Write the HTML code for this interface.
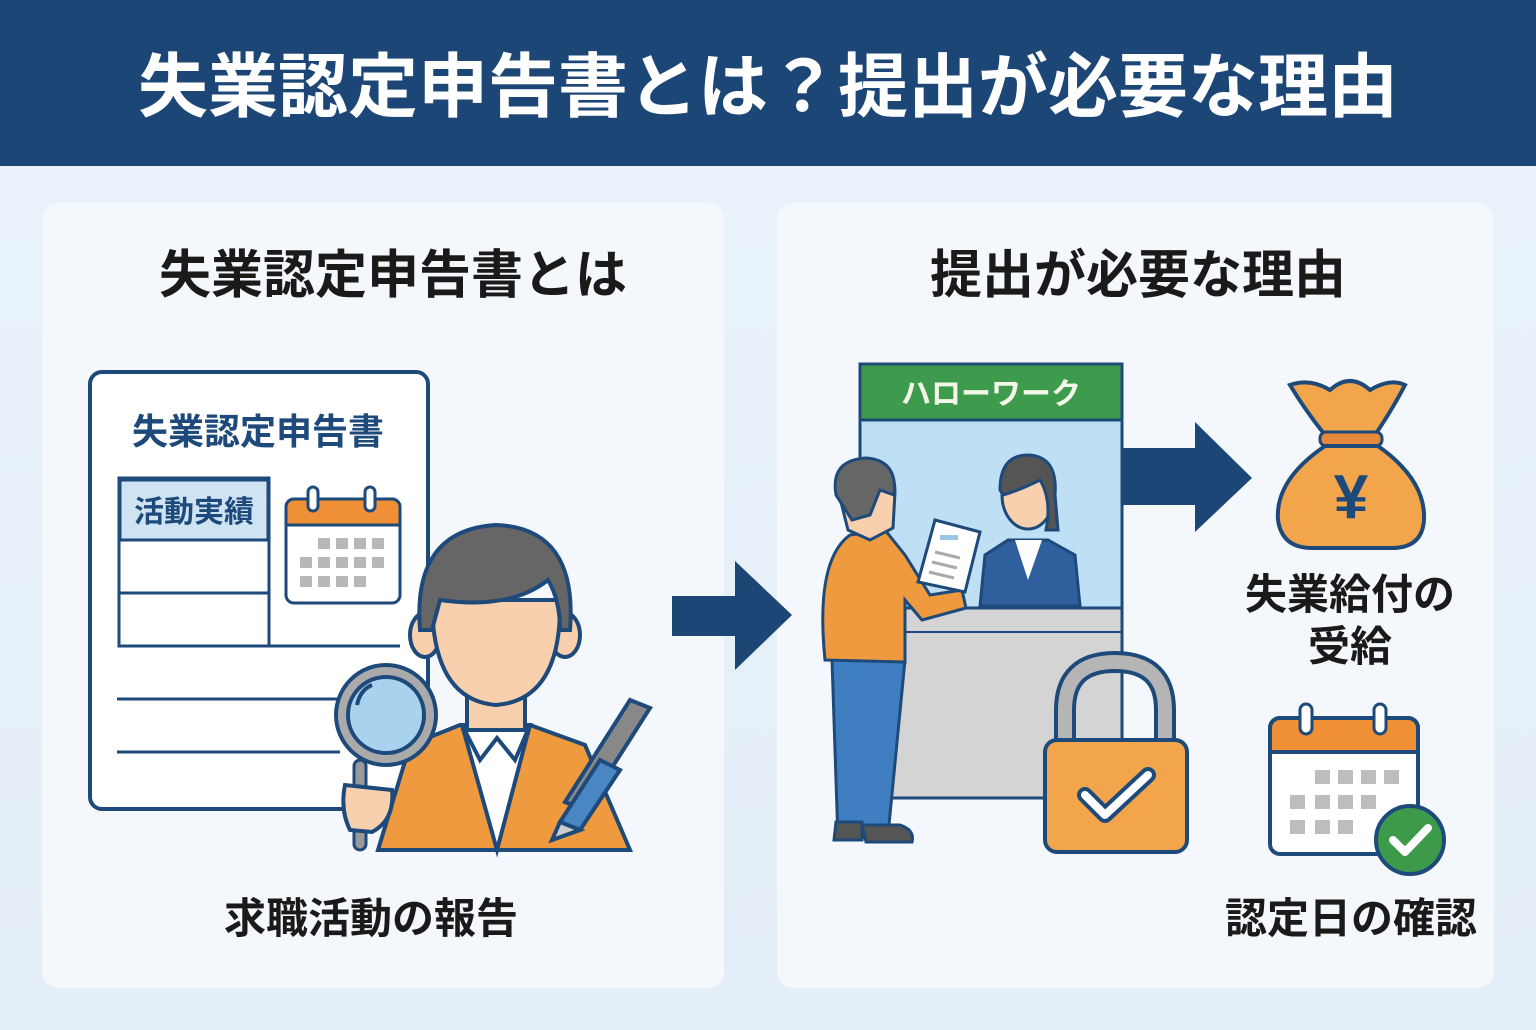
<!DOCTYPE html>
<html><head><meta charset="utf-8"><style>
html,body{margin:0;padding:0;}
body{width:1536px;height:1030px;overflow:hidden;background:#e9f2fa;}
svg{display:block;}
text{font-family:"Liberation Sans","Noto Sans CJK JP",sans-serif;font-weight:bold;}
</style></head><body>
<svg width="1536" height="1030" viewBox="0 0 1536 1030" xmlns="http://www.w3.org/2000/svg">
<defs>
<linearGradient id="bg" x1="0" y1="0" x2="0" y2="1"><stop offset="0" stop-color="#eaf3fb"/><stop offset="1" stop-color="#e4eef8"/></linearGradient>
</defs>
<rect width="1536" height="1030" fill="url(#bg)"/>
<rect width="1536" height="166" fill="#1c4676"/>
<text x="768" y="111" font-size="70" fill="#fff" text-anchor="middle">失業認定申告書とは？提出が必要な理由</text>

<rect x="42" y="203" width="682" height="785" rx="16" fill="#f4f8fc"/>
<rect x="777" y="203" width="717" height="785" rx="16" fill="#f4f8fc"/>
<text x="393" y="293" font-size="52" fill="#1a1a1a" text-anchor="middle">失業認定申告書とは</text>
<text x="1138" y="293" font-size="52" fill="#1a1a1a" text-anchor="middle">提出が必要な理由</text>

<!-- Left document -->
<rect x="90" y="372" width="338" height="437" rx="12" fill="#fff" stroke="#1d4a7a" stroke-width="4"/>
<text x="258" y="444" font-size="36" fill="#1d4a7a" text-anchor="middle">失業認定申告書</text>
<rect x="119" y="478" width="150" height="168" fill="#fff" stroke="#1d4a7a" stroke-width="3"/>
<rect x="120" y="480" width="148" height="60" fill="#cfe3f3" stroke="#1d4a7a" stroke-width="3"/>
<text x="194" y="522" font-size="30" fill="#1d4a7a" text-anchor="middle">活動実績</text>
<line x1="119" y1="593" x2="269" y2="593" stroke="#1d4a7a" stroke-width="3"/>
<line x1="269" y1="646" x2="400" y2="646" stroke="#1d4a7a" stroke-width="3"/>
<line x1="117" y1="699" x2="340" y2="699" stroke="#1d4a7a" stroke-width="3"/>
<line x1="117" y1="752" x2="340" y2="752" stroke="#1d4a7a" stroke-width="3"/>
<!-- small calendar -->
<rect x="286" y="499" width="114" height="104" rx="8" fill="#fff" stroke="#1d4a7a" stroke-width="3"/>
<path d="M286 525 V507 a8 8 0 0 1 8-8 h98 a8 8 0 0 1 8 8 V525 Z" fill="#ef8f36" stroke="#1d4a7a" stroke-width="3"/>
<rect x="308" y="487" width="10" height="24" rx="5" fill="#fff" stroke="#1d4a7a" stroke-width="3"/>
<rect x="365" y="487" width="10" height="24" rx="5" fill="#fff" stroke="#1d4a7a" stroke-width="3"/>
<g fill="#b8b8b8">
<rect x="318" y="538" width="12" height="11"/><rect x="336" y="538" width="12" height="11"/><rect x="354" y="538" width="12" height="11"/><rect x="372" y="538" width="12" height="11"/>
<rect x="300" y="557" width="12" height="11"/><rect x="318" y="557" width="12" height="11"/><rect x="336" y="557" width="12" height="11"/><rect x="354" y="557" width="12" height="11"/><rect x="372" y="557" width="12" height="11"/>
<rect x="300" y="576" width="12" height="11"/><rect x="318" y="576" width="12" height="11"/><rect x="336" y="576" width="12" height="11"/><rect x="354" y="576" width="12" height="11"/>
</g>
<!-- person left -->
<path d="M378 850 L410 745 L460 725 L530 725 L585 745 L630 850 Z" fill="#ef9a3e" stroke="#1d4a7a" stroke-width="4"/>
<path d="M462 725 L497 850 L530 725 Z" fill="#fff" stroke="#1d4a7a" stroke-width="4"/>
<path d="M462 725 L480 760 L497 738 L515 760 L530 725" fill="none" stroke="#1d4a7a" stroke-width="4"/>
<rect x="467" y="680" width="58" height="50" fill="#f9d0ae" stroke="#1d4a7a" stroke-width="4"/>
<ellipse cx="425" cy="635" rx="15" ry="22" fill="#f9d0ae" stroke="#1d4a7a" stroke-width="4"/>
<ellipse cx="565" cy="635" rx="15" ry="22" fill="#f9d0ae" stroke="#1d4a7a" stroke-width="4"/>
<path d="M432 600 Q432 700 496 705 Q562 700 560 600 Z" fill="#f9d0ae" stroke="#1d4a7a" stroke-width="4"/>
<path d="M420 630 Q412 530 496 525 Q578 528 570 630 L560 630 Q560 600 548 580 Q510 610 440 600 L432 630 Z" fill="#666" stroke="#1d4a7a" stroke-width="4"/>
<!-- magnifier -->
<rect x="354" y="760" width="12" height="90" rx="6" fill="#999" stroke="#1d4a7a" stroke-width="3"/>
<circle cx="386" cy="715" r="50" fill="#aaa" stroke="#1d4a7a" stroke-width="4"/>
<circle cx="386" cy="715" r="38" fill="#a9d2ee" stroke="#1d4a7a" stroke-width="4"/>
<path d="M357 705 Q360 690 372 685" fill="none" stroke="#1d4a7a" stroke-width="4"/>
<path d="M345 785 Q340 810 350 830 L372 832 Q395 820 392 790 Z" fill="#f9d0ae" stroke="#1d4a7a" stroke-width="4"/>
<!-- pen -->
<path d="M630 700 L650 708 L585 810 L565 802 Z" fill="#888" stroke="#1d4a7a" stroke-width="4"/>
<path d="M600 760 L620 770 L580 830 L560 822 Z" fill="#4a86c2" stroke="#1d4a7a" stroke-width="4"/>
<path d="M560 822 L580 830 L552 840 Z" fill="#ccc" stroke="#1d4a7a" stroke-width="4"/>
<text x="371" y="933" font-size="42" fill="#1a1a1a" text-anchor="middle">求職活動の報告</text>

<!-- middle arrow -->
<path d="M672 596 H735 V561 L792 615 L735 670 V636 H672 Z" fill="#1c4676"/>

<!-- Hello work -->
<rect x="860" y="420" width="262" height="378" fill="#d4d4d4" stroke="#1d4a7a" stroke-width="3"/>
<rect x="860" y="420" width="262" height="188" fill="#bfdff5" stroke="#1d4a7a" stroke-width="3"/>
<rect x="860" y="364" width="262" height="56" fill="#3e9a4d" stroke="#1d4a7a" stroke-width="3"/>
<text x="991" y="404" font-size="30" fill="#f2f7e8" text-anchor="middle" font-weight="normal">ハローワーク</text>
<line x1="860" y1="632" x2="1122" y2="632" stroke="#1d4a7a" stroke-width="2"/>
<!-- clerk -->
<path d="M980 606 L985 555 L1008 540 L1048 540 L1075 555 L1080 606 Z" fill="#2f5f9c" stroke="#1d4a7a" stroke-width="3"/>
<path d="M1015 540 L1028 580 L1042 540 Z" fill="#fff"/>
<ellipse cx="1028" cy="495" rx="26" ry="34" fill="#f9d0ae" stroke="#1d4a7a" stroke-width="3"/>
<path d="M1000 490 Q1000 455 1028 455 Q1058 456 1055 495 L1058 530 L1046 530 Q1052 500 1040 480 Q1020 490 1003 495 Z" fill="#555" stroke="#1d4a7a" stroke-width="3"/>
<!-- man -->
<path d="M838 840 L832 660 L905 660 L888 835 Z" fill="#3f7ec0" stroke="#1d4a7a" stroke-width="3"/>
<path d="M836 822 H862 V840 H834 Z" fill="#555" stroke="#1d4a7a" stroke-width="3"/>
<path d="M862 825 H900 Q915 830 912 842 H866 Z" fill="#555" stroke="#1d4a7a" stroke-width="3"/>
<path d="M825 660 Q815 560 850 535 L885 530 L905 555 L930 595 L962 590 L966 608 L922 620 L905 600 L905 662 Z" fill="#ef9a3e" stroke="#1d4a7a" stroke-width="3"/>
<path d="M838 490 Q838 462 866 460 Q895 462 895 492 L893 528 L870 540 L848 530 Z" fill="#f9d0ae" stroke="#1d4a7a" stroke-width="3"/>
<path d="M836 495 Q830 460 866 458 Q898 460 894 495 L880 490 L870 515 L852 520 Z" fill="#666" stroke="#1d4a7a" stroke-width="3"/>
<path d="M935 520 L980 532 L965 592 L918 582 Z" fill="#fff" stroke="#1d4a7a" stroke-width="3"/>
<rect x="940" y="535" width="18" height="5" fill="#9cc6e5"/>
<g stroke="#aaa" stroke-width="3"><line x1="935" y1="552" x2="960" y2="558"/><line x1="932" y1="562" x2="957" y2="568"/><line x1="929" y1="572" x2="954" y2="578"/></g>
<!-- lock -->
<path d="M1065 745 V710 Q1065 662 1115 662 Q1165 662 1165 710 V745" fill="none" stroke="#1d4a7a" stroke-width="22"/>
<path d="M1065 745 V710 Q1065 662 1115 662 Q1165 662 1165 710 V745" fill="none" stroke="#b5b5b5" stroke-width="14"/>
<rect x="1045" y="740" width="142" height="112" rx="12" fill="#f2a54a" stroke="#1d4a7a" stroke-width="4"/>
<path d="M1085 795 L1105 815 L1148 775" fill="none" stroke="#1d4a7a" stroke-width="16" stroke-linecap="round" stroke-linejoin="round"/>
<path d="M1085 795 L1105 815 L1148 775" fill="none" stroke="#fff" stroke-width="8" stroke-linecap="round" stroke-linejoin="round"/>
<!-- right arrow -->
<path d="M1122 448 H1195 V422 L1252 478 L1195 532 V505 H1122 Z" fill="#1c4676"/>
<!-- money bag -->
<path d="M1325 435 Q1305 410 1290 385 Q1310 378 1330 390 Q1350 372 1370 390 Q1390 378 1405 385 Q1392 410 1375 435 Z" fill="#f2a54a" stroke="#1d4a7a" stroke-width="4"/>
<rect x="1320" y="432" width="62" height="14" rx="6" fill="#e5883a" stroke="#1d4a7a" stroke-width="3"/>
<path d="M1325 446 Q1275 480 1278 520 Q1282 548 1312 548 H1392 Q1422 548 1424 520 Q1426 480 1378 446 Z" fill="#f2a54a" stroke="#1d4a7a" stroke-width="4"/>
<text x="1351" y="518" font-size="62" fill="#1d4a7a" text-anchor="middle">¥</text>
<text x="1350" y="609" font-size="42" fill="#1a1a1a" text-anchor="middle">失業給付の</text>
<text x="1350" y="661" font-size="42" fill="#1a1a1a" text-anchor="middle">受給</text>
<!-- calendar right -->
<rect x="1270" y="718" width="148" height="136" rx="10" fill="#fff" stroke="#1d4a7a" stroke-width="4"/>
<path d="M1270 752 V728 a10 10 0 0 1 10-10 h128 a10 10 0 0 1 10 10 V752 Z" fill="#ef8f36" stroke="#1d4a7a" stroke-width="4"/>
<rect x="1300" y="704" width="12" height="30" rx="6" fill="#fff" stroke="#1d4a7a" stroke-width="3"/>
<rect x="1374" y="704" width="12" height="30" rx="6" fill="#fff" stroke="#1d4a7a" stroke-width="3"/>
<g fill="#bdbdbd">
<rect x="1315" y="770" width="15" height="14"/><rect x="1338" y="770" width="15" height="14"/><rect x="1361" y="770" width="15" height="14"/><rect x="1384" y="770" width="15" height="14"/>
<rect x="1290" y="795" width="15" height="14"/><rect x="1315" y="795" width="15" height="14"/><rect x="1338" y="795" width="15" height="14"/><rect x="1361" y="795" width="15" height="14"/>
<rect x="1290" y="820" width="15" height="14"/><rect x="1315" y="820" width="15" height="14"/><rect x="1338" y="820" width="15" height="14"/>
</g>
<circle cx="1410" cy="840" r="34" fill="#3c9a4a" stroke="#1d4a7a" stroke-width="4"/>
<path d="M1393 840 L1405 852 L1428 828" fill="none" stroke="#fff" stroke-width="8" stroke-linecap="round" stroke-linejoin="round"/>
<text x="1351" y="933" font-size="42" fill="#1a1a1a" text-anchor="middle">認定日の確認</text>
</svg>
</body></html>
